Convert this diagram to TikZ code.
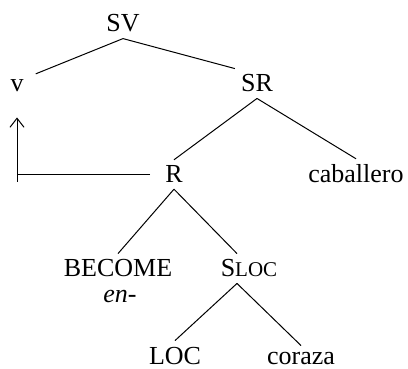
\documentclass[tikz,border=0pt]{standalone}
\usepackage{fontspec}
\setmainfont{Liberation Serif}
\usetikzlibrary{arrows.meta}
\newcommand{\smcap}[1]{{\fontsize{21}{21}\selectfont #1}}

\begin{document}
\begin{tikzpicture}[x=1pt,y=-1pt,
  mynode/.style={anchor=base,inner sep=6pt,font=\fontsize{26}{30}\selectfont},
  branch/.style={line width=1pt}]
\useasboundingbox (0,0) rectangle (408,369);
\node [mynode] (SV) at (123,32) {SV};
\node [mynode] (v) at (17,92) {v};
\node [mynode] (SR) at (257,92) {SR};
\node [mynode] (R) at (174,183) {R};
\node [mynode] (cab) at (356,183) {caballero};
\node [mynode] (become) at (118,277) {BECOME};
\node [mynode] (en) at (120,302) {\textit{en-}};
\node [mynode] (Sloc) at (249,277) {S\smcap{LOC}};
\node [mynode] (LOC) at (175,364) {LOC};
\node [mynode] (coraza) at (301,364) {coraza};
\coordinate (trace) at (17,182);
  \draw [branch] (SV.south) -- ([xshift=6pt]v.north east);
  \draw [branch] (SV.south) -- (SR.north west);
  \foreach \up/\down in {SR/R,SR/cab,R/become}
  {  \draw [branch] (\up.south) -- (\down.north);}
  \draw [branch] (R.south) -- ([xshift=-12pt]Sloc.north);
  \foreach \down in {LOC,coraza}
  {  \draw [branch] ([xshift=-12pt]Sloc.south) -- (\down.north);}
  \draw [branch,-{Straight Barb[length=9pt,width=14pt]},shorten >=19pt] (trace) -- (v.south);
  \draw [branch] ([xshift=-9pt]R.west) -- (R.west -| trace);
\end{tikzpicture}
\end{document}
